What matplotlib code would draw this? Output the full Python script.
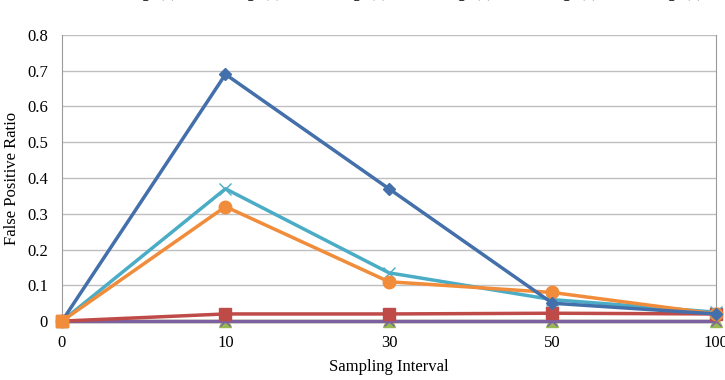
import matplotlib
matplotlib.use("Agg")
from matplotlib import pyplot as plt

plt.rcParams['font.family'] = ['Liberation Serif', 'DejaVu Serif']

intervals = ['0', '10', '30', '50', '100']
labels = ['Alg1(a)', 'Alg2(a)', 'Alg3(a)', 'Alg4(a)', 'Alg5(a)', 'Alg6(a)']
blue = [0, 0.69, 0.37, 0.05, 0.02]
red = [0, 0.02, 0.02, 0.022, 0.02]
green = [0, 0, 0, 0, 0]
purple = [0, 0, 0, 0, 0]
cyan = [0, 0.37, 0.135, 0.06, 0.025]
orange = [0, 0.32, 0.11, 0.08, 0.02]

fig = plt.figure(figsize=(7.25, 3.8), dpi=100)
ax = fig.add_axes([0.0855, 0.155, 0.902, 0.753])
x = range(len(intervals))

ax.plot(x, green, color='#98B954', marker='^', markersize=9, linewidth=2.5, label=labels[2], zorder=3, clip_on=False)
ax.plot(x, purple, color='#7D60A0', marker='x', markersize=7, linewidth=2.5, label=labels[3], zorder=4, clip_on=False)
ax.plot(x, red, color='#BE4B48', marker='s', markersize=8, linewidth=2.5, label=labels[1], zorder=4, clip_on=False)
ax.plot(x, blue, color='#4370AB', marker='D', markersize=6, linewidth=2.5, label=labels[0], zorder=6, clip_on=False)
ax.plot(x, cyan, color='#4BACC6', marker='x', markersize=8, linewidth=2.5, label=labels[4], zorder=5, clip_on=False)
ax.plot(x, orange, color='#F08C3A', marker='o', markersize=9, linewidth=2.5, label=labels[5], zorder=5, clip_on=False)
ax.plot([0], [0], color='#F08C3A', marker='s', markersize=9, linestyle='none', zorder=7, clip_on=False)

ax.set_xlim(0, 4)
ax.set_ylim(0, 0.8)
ax.set_xticks(list(x))
ax.set_xticklabels(intervals)
ax.set_yticks([0, 0.1, 0.2, 0.3, 0.4, 0.5, 0.6, 0.7, 0.8])
ax.set_yticklabels(['0', '0.1', '0.2', '0.3', '0.4', '0.5', '0.6', '0.7', '0.8'])
ax.tick_params(length=0, labelsize=12, pad=10)
ax.grid(axis='y', color='#BFBFBF', linewidth=1)
ax.set_axisbelow(True)
for s in ['left', 'right']:
    ax.spines[s].set_color('#9A9A9A')
ax.spines['top'].set_visible(False)
ax.spines['bottom'].set_visible(False)

ax.set_xlabel('Sampling Interval', fontsize=12, labelpad=6)
ax.set_ylabel('False Positive Ratio', fontsize=12, labelpad=5)

handles, labs = ax.get_legend_handles_labels()
order = [3, 2, 0, 1, 4, 5]
fig.legend([handles[i] for i in order], [labs[i] for i in order],
           loc='center', bbox_to_anchor=(0.545, 1.018), ncol=6, frameon=False,
           fontsize=12, handlelength=2, columnspacing=0.8, handletextpad=0.4)

fig.savefig('out.png', dpi=100)
